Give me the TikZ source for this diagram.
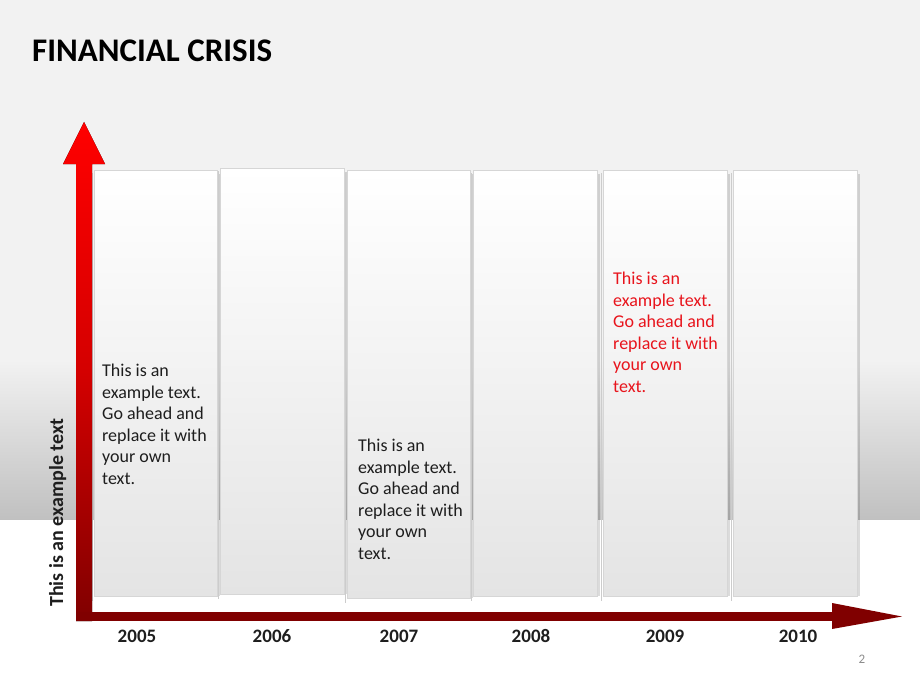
\documentclass[tikz,border=0pt]{standalone}
\usepackage{fontspec}
\setmainfont{Carlito}
\definecolor{bgtop}{HTML}{F2F2F2}
\definecolor{bgbot}{HTML}{C0C0C0}
\definecolor{dred}{HTML}{800000}
\definecolor{mred}{HTML}{D40000}
\definecolor{colbot}{HTML}{E4E4E4}
\definecolor{colborder}{HTML}{D6D6D6}
\definecolor{colline}{HTML}{CCCCCC}
\definecolor{txt}{HTML}{1E1E1E}
\definecolor{redtxt}{HTML}{E8141C}
\definecolor{pggray}{HTML}{8C8C8C}
\tikzset{
  colbox/.style={draw=colborder, line width=0.8pt, top color=white, bottom color=colbot, inner sep=0, anchor=north west},
  colshade/.style={fill=black, fill opacity=0.14},
  bodytext/.style={font=\fontsize{18}{21.5}\selectfont, align=left, inner sep=0, anchor=north west, text=txt},
  yearlabel/.style={font=\bfseries\fontsize{19}{19}\selectfont, anchor=base, inner sep=0, text=txt},
}
\begin{document}
\begin{tikzpicture}[x=1pt,y=-1pt]
\useasboundingbox (0,0) rectangle (920,690);
% background
\fill[bgtop] (0,0) rectangle (920,362);
\shade[top color=bgtop,bottom color=bgbot] (0,360) rectangle (920,520);
\fill[white] (0,520) rectangle (920,690);
% title
\node[anchor=base west, font=\bfseries\fontsize{33}{33}\selectfont, inner sep=0, text=black] (title) at (32,62) {FINANCIAL CRISIS};
% columns
\foreach \i/\xa/\ya/\xb/\yb in {1/94/170/217/596, 2/220/168/344/594, 3/347/170/470/598, 4/473/170/597/596, 5/603/170/727/596, 6/733/170/857/596} {
  \fill[colshade] (\xb,\ya+4) rectangle (\xb+3,\yb);
  \draw[colline, line width=0.8pt] (\xa-1.5,\ya+3) -- (\xa-1.5,\yb+5);
  \node[colbox, minimum width={(\xb-\xa)*1pt}, minimum height={(\yb-\ya)*1pt}] (col\i) at (\xa,\ya) {};
}
% column texts
\node[bodytext] (t1) at (102,364) {This is an\\example text.\\Go ahead and\\replace it with\\your own\\text.};
\node[bodytext] (t3) at (358,439) {This is an\\example text.\\Go ahead and\\replace it with\\your own\\text.};
\node[bodytext, text=redtxt] (t5) at (613,272) {This is an\\example text.\\Go ahead and\\replace it with\\your own\\text.};
% axes
\coordinate (origin) at (76,621);
\fill[top color=red, bottom color=dred, middle color=mred] (76,621) -- (76,164) -- (63,164) -- (84,122) -- (105,164) -- (92,164) -- (92,621) -- cycle;
\fill[dred] (76,612) rectangle (832,621);
\fill[dred] (832,603) -- (902,616.5) -- (832,629) -- cycle;
% axis label
\node[rotate=90, anchor=base west, inner sep=0, font=\bfseries\fontsize{20}{20}\selectfont, text=txt] (ylab) at (63,607) {This is an example text};
% years
\node[yearlabel] (y2005) at (137,642) {2005};
\node[yearlabel] (y2006) at (272,642) {2006};
\node[yearlabel] (y2007) at (399,642) {2007};
\node[yearlabel] (y2008) at (531,642) {2008};
\node[yearlabel] (y2009) at (665,642) {2009};
\node[yearlabel] (y2010) at (798,642) {2010};
% page number
\node[anchor=base, inner sep=0, font=\fontsize{13}{13}\selectfont, text=pggray] (pg) at (862,663) {2};
\end{tikzpicture}
\end{document}
